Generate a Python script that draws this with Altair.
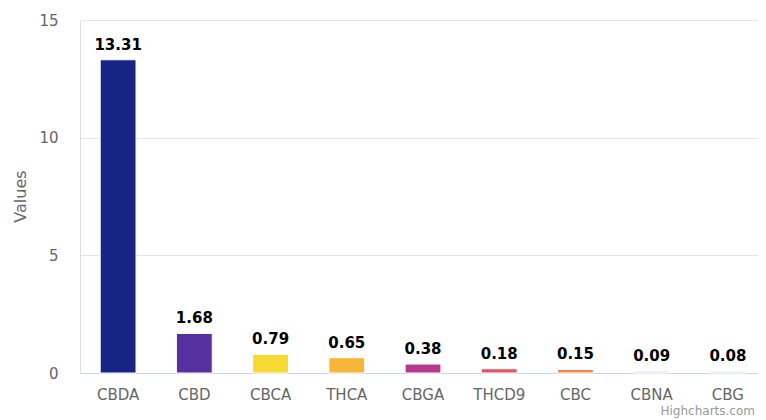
import altair as alt
import pandas as pd

categories = ["CBDA", "CBD", "CBCA", "THCA", "CBGA", "THCD9", "CBC", "CBNA", "CBG"]
values = [13.31, 1.68, 0.79, 0.65, 0.38, 0.18, 0.15, 0.09, 0.08]
labels = ["13.31", "1.68", "0.79", "0.65", "0.38", "0.18", "0.15", "0.09", "0.08"]
colors = ["#172385", "#56309e", "#f8d932", "#f5b735", "#b53a8e", "#e05566", "#f08a4b", "#e3e6f2", "#e6e8f2"]
y_ticks = [0, 5, 10, 15]

df = pd.DataFrame({"cat": categories, "val": values, "lab": labels})
FONT = "DejaVu Sans"

x_enc = alt.X("cat:N", sort=categories, title=None,
              scale=alt.Scale(paddingInner=0.53, paddingOuter=0.265, range=[0, 686]),
              axis=alt.Axis(labelAngle=0, labelFontSize=15, labelColor="#666666", labelFont=FONT,
                            labelPadding=14, ticks=False, domainColor="#ccd6eb", domainWidth=1,
                            grid=False))
y_enc = alt.Y("val:Q", title="Values",
              scale=alt.Scale(domain=[0, 15], nice=False),
              axis=alt.Axis(values=y_ticks, labelFontSize=15, labelColor="#666666", labelFont=FONT,
                            labelPadding=22, ticks=False, domain=False, gridColor="#e6e6e6",
                            titleFont=FONT, titleFontSize=16, titleFontWeight="normal",
                            titleColor="#666666", titleX=-60, titleY=176, titleAngle=-90,
                            titleAlign="center", titleBaseline="middle"))

bars = alt.Chart(df).mark_bar(stroke="white", strokeWidth=1).encode(
    x=x_enc, y=y_enc,
    color=alt.Color("cat:N", sort=categories,
                    scale=alt.Scale(domain=categories, range=colors), legend=None),
)

text = alt.Chart(df).mark_text(fontSize=15, fontWeight="bold", font=FONT, color="#000000",
                               baseline="alphabetic", dy=-10).encode(
    x=alt.X("cat:N", sort=categories), y="val:Q", text="lab:N"
)

credit = alt.Chart(pd.DataFrame({"t": ["Highcharts.com"]})).mark_text(
    fontSize=12, font=FONT, color="#999999", align="right", baseline="middle"
).encode(text="t:N", x=alt.value(675), y=alt.value(391))

chart = alt.layer(bars, text, credit).properties(
    width=678, height=353,
    autosize=alt.AutoSizeParams(type="none"),
    padding={"left": 72, "top": 12, "right": 0, "bottom": 47},
).configure_view(stroke=None).configure(background="white")

chart.save("out.html", embed_options={"renderer": "svg", "actions": False})
